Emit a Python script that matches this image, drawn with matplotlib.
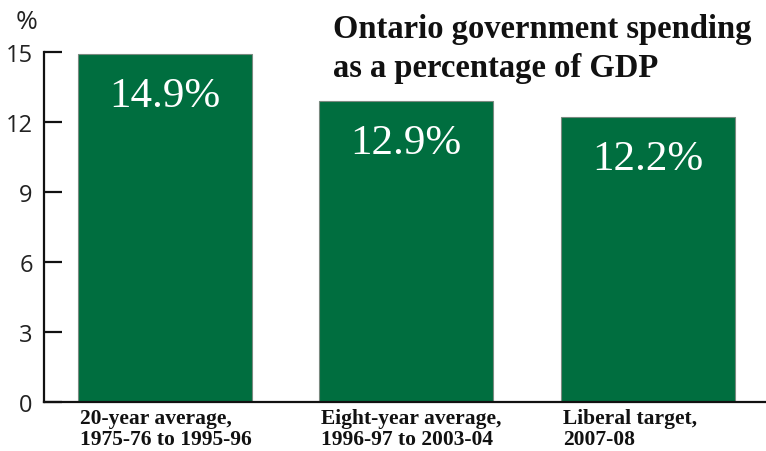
import matplotlib
matplotlib.use("Agg")
import matplotlib.pyplot as plt

categories = ["20-year average,\n1975-76 to 1995-96",
              "Eight-year average,\n1996-97 to 2003-04",
              "Liberal target,\n2007-08"]
values = [14.9, 12.9, 12.2]
value_labels = ["14.9%", "12.9%", "12.2%"]
yticks = [0, 3, 6, 9, 12, 15]

green = "#006E3F"

fig = plt.figure(figsize=(7.66, 4.52), dpi=100)
ax = fig.add_axes([0.0574, 0.1084, 0.9426, 0.7743])

x = list(range(len(values)))
ax.bar(x, values, width=0.72, color=green, edgecolor="#7a8a80", linewidth=0.8)
ax.set_xlim(-0.5, 2.49)
ax.set_ylim(0, 15)

for xi, v, lab in zip(x, values, value_labels):
    ax.annotate(lab, (xi, v), xytext=(0, -30), textcoords="offset points",
                ha="center", va="center", color="white",
                fontsize=31, family="Liberation Serif")

for xi, cat in zip(x, categories):
    ax.annotate(cat, (xi - 0.36, 0), xytext=(1.5, -4), textcoords="offset points",
                ha="left", va="top", fontsize=15.5, fontweight="bold",
                family="Liberation Serif", linespacing=1.08, color="#111111")

ax.set_yticks(yticks)
ax.set_yticklabels([str(t) for t in yticks], fontsize=17, family="Open Sans", color="#222222")
ax.set_xticks([])
ax.tick_params(axis="y", direction="in", length=13, width=1.6, pad=8, color="#111111")
for s in ["top", "right"]:
    ax.spines[s].set_visible(False)
for s in ["left", "bottom"]:
    ax.spines[s].set_linewidth(1.6)
    ax.spines[s].set_color("#111111")

fig.text(0.035, 0.95, "%", fontsize=19, family="Open Sans", ha="center", va="center", color="#222222")
fig.text(0.435, 0.97, "Ontario government spending\nas a percentage of GDP",
         fontsize=23.5, fontweight="bold", family="Liberation Serif",
         ha="left", va="top", linespacing=1.36, color="#111111")

fig.savefig("out.png", dpi=100)
